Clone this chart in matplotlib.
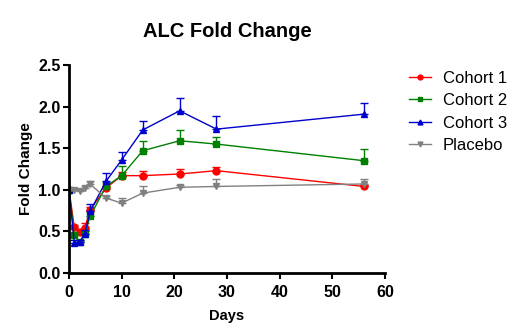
import numpy as np
import matplotlib
matplotlib.use("Agg")
import matplotlib.pyplot as plt

plt.rcParams['font.family'] = ['Liberation Sans', 'DejaVu Sans']

days = [0, 1, 2, 3, 4, 7, 10, 14, 21, 28, 56]

# mean fold change per group
cohort1 = [1.00, 0.55, 0.49, 0.54, 0.76, 1.02, 1.17, 1.17, 1.19, 1.23, 1.04]
cohort2 = [1.00, 0.45, 0.37, 0.47, 0.68, 1.04, 1.17, 1.47, 1.59, 1.55, 1.35]
cohort3 = [1.00, 0.36, 0.37, 0.47, 0.74, 1.10, 1.36, 1.72, 1.95, 1.73, 1.91]
placebo = [1.00, 1.00, 0.99, 1.02, 1.07, 0.90, 0.84, 0.96, 1.03, 1.04, 1.07]

# upper error (SEM) per group
err1 = [0.0, 0.03, 0.03, 0.06, 0.03, 0.03, 0.04, 0.05, 0.06, 0.04, 0.02]
err2 = [0.0, 0.03, 0.02, 0.03, 0.05, 0.05, 0.12, 0.12, 0.13, 0.08, 0.14]
err3 = [0.0, 0.03, 0.03, 0.04, 0.09, 0.10, 0.10, 0.11, 0.15, 0.16, 0.14]
errp = [0.0, 0.01, 0.01, 0.02, 0.04, 0.02, 0.06, 0.08, 0.03, 0.09, 0.06]

groups = [
    ("Cohort 1", cohort1, err1, "#ff0000", "o"),
    ("Cohort 2", cohort2, err2, "#008000", "s"),
    ("Cohort 3", cohort3, err3, "#0000cc", "^"),
    ("Placebo", placebo, errp, "#808080", "v"),
]

fig = plt.figure(figsize=(5.23, 3.34), dpi=100)
ax = fig.add_axes([0.132, 0.183, 0.604, 0.622])

for name, vals, err, col, mk in groups:
    lower = np.zeros(len(err))
    # only the upper half of the error bar, GraphPad style
    ax.errorbar(days, vals, yerr=[lower, err], fmt="none", ecolor=col,
                elinewidth=1, capsize=3, capthick=1)
    ax.plot(days, vals, color=col, marker=mk, markersize=5, linewidth=1,
            label=name)

ax.set_xlim(0, 60)
ax.set_ylim(0, 2.5)
ax.set_xticks(range(0, 61, 10))
ax.set_yticks([0.0, 0.5, 1.0, 1.5, 2.0, 2.5])
ax.set_yticklabels(["0.0", "0.5", "1.0", "1.5", "2.0", "2.5"])

for s in ["top", "right"]:
    ax.spines[s].set_visible(False)
for s in ["left", "bottom"]:
    ax.spines[s].set_linewidth(2)
ax.tick_params(width=1.5, length=4, labelsize=11.5)
ax.tick_params(axis="x", pad=5)
ax.tick_params(axis="y", pad=2)
for lab in ax.get_xticklabels() + ax.get_yticklabels():
    lab.set_fontweight("bold")

ax.set_xlabel("Days", fontsize=10.5, fontweight="bold", labelpad=6)
ax.set_ylabel("Fold Change", fontsize=11, fontweight="bold", labelpad=4)
ax.set_title("ALC Fold Change", fontsize=14.5, fontweight="bold", pad=20)

leg = ax.legend(loc="upper left", bbox_to_anchor=(1.03, 1.045), frameon=False,
                fontsize=12, handlelength=1.3, handletextpad=0.7,
                markerscale=0.7, labelspacing=0.45)

fig.savefig("out.png", dpi=100)
